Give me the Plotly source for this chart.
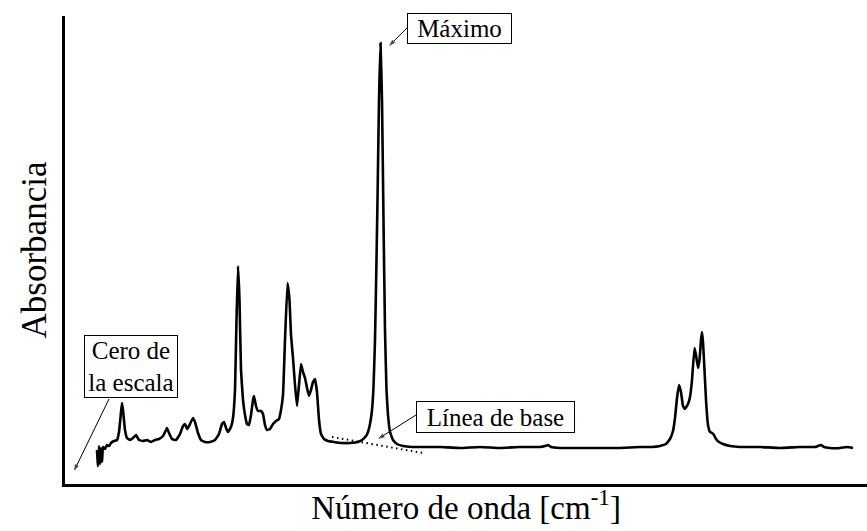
import plotly.graph_objects as go

# Spectrum (arbitrary units: wavenumber axis position, absorbance)
wavenumber = [32, 33, 34, 35, 36, 37, 38, 40, 42, 44, 46, 49, 52, 54, 56, 57, 58, 60, 62, 65,
              68, 71, 74, 78, 82, 86, 90, 94, 98, 101, 102, 104, 107, 111, 115, 118, 120, 122, 124, 128,
              130, 133, 136, 140, 145, 150, 154, 157, 159, 161, 163, 166, 168, 170, 171.5, 173, 174.5, 176, 178, 180,
              182, 184, 186, 188, 189, 191, 193, 196, 198, 200, 202, 205, 208, 211, 214, 216, 218, 220, 222.5, 224.5,
              226, 228, 230, 232, 234, 236, 238, 240, 242, 244, 246, 248, 250, 252, 254, 256, 259, 263, 269, 277,
              285, 293, 297, 301, 303, 305, 307, 308.5, 310, 311.5, 312.5, 314, 315.5, 317, 318.5, 320, 321.5, 323, 325, 328,
              332, 338, 347, 360, 375, 395, 415, 435, 455, 475, 480, 483, 486, 495, 515, 535, 555, 575, 587, 595,
              601, 605, 608, 610, 612, 614, 616, 618, 620, 623, 625, 627, 629.5, 631, 633, 634.5, 636, 637, 638, 639.5,
              641, 643, 645, 647, 649, 651, 654, 658, 665, 675, 695, 715, 735, 750, 753, 756, 759, 765, 775, 782, 788]
absorbance = [34, 18, 38, 20, 36, 22, 37, 35, 39, 38, 41, 43, 44, 52, 72, 81, 74, 54, 46, 44,
              46, 49, 44, 43, 44, 42, 44, 45, 48, 54, 56, 51, 45, 44, 50, 58, 60, 55, 58, 66,
              62, 51, 44, 42, 42, 44, 50, 60, 62, 56, 52, 57, 66, 94, 164, 218, 184, 114, 84, 69,
              60, 59, 69, 84, 88, 78, 73, 73, 70, 59, 54, 55, 60, 63, 65, 74, 89, 144, 201, 184,
              149, 126, 99, 78, 99, 120, 112, 106, 96, 88, 94, 102, 105, 92, 64, 50, 45, 43, 42, 41,
              41, 42, 44, 48, 52, 60, 74, 97, 144, 224, 284, 384, 441, 384, 264, 154, 94, 69, 52, 44,
              40, 38, 37, 37, 37, 36, 37, 36, 37, 37, 38, 39, 37, 36, 36, 36, 36, 37, 37, 38,
              40, 45, 53, 66, 86, 99, 92, 78, 75, 80, 87, 104, 136, 129, 116, 124, 144, 152, 142, 114,
              84, 59, 52, 51, 49, 45, 42, 40, 38, 37, 37, 36, 37, 37, 38, 39, 37, 36, 36, 37, 36]

# Dotted baseline under the main peak
baseline_x = [267, 358]
baseline_y = [47, 31]

# Callouts: label, box centre, arrow tail, arrow tip
labels = ["Máximo", "Línea de base", "Cero de<br>la escala"]
box_x = [394.5, 430.5, 66]
box_y = [455.5, 67, 117.5]
box_w = [103, 157, 92]
box_h = [29, 30, 61]
tail_x = [342, 351, 44]
tail_y = [456, 69, 85]
tip_x = [324, 313, 9]
tip_y = [438, 45, 13]

FONT = "Liberation Serif, Times New Roman, serif"

fig = go.Figure()
fig.add_trace(go.Scatter(x=wavenumber, y=absorbance, mode="lines",
                         line=dict(color="black", width=2.6, shape="spline", smoothing=0.3),
                         showlegend=False, hoverinfo="skip"))
fig.add_trace(go.Scatter(x=baseline_x, y=baseline_y, mode="lines",
                         line=dict(color="black", width=2, dash="1.5px,3.5px"),
                         showlegend=False, hoverinfo="skip"))

# Thin callout arrows
for i in range(len(labels)):
    fig.add_trace(go.Scatter(x=[tail_x[i], tip_x[i]], y=[tail_y[i], tip_y[i]],
                             mode="lines+markers",
                             line=dict(color="black", width=1),
                             marker=dict(symbol=["circle", "arrow"], size=[0, 7],
                                         angleref="previous", color="black",
                                         line=dict(width=0)),
                             showlegend=False, hoverinfo="skip"))

annotations = []
for i in range(len(labels)):
    annotations.append(dict(x=box_x[i], y=box_y[i], xref="x", yref="y", text=labels[i],
                            showarrow=False, font=dict(family=FONT, size=25, color="black"),
                            bordercolor="black", borderwidth=1, borderpad=0, bgcolor="white",
                            width=box_w[i], height=box_h[i], align="center", valign="middle"))

fig.update_layout(
    width=867, height=531,
    margin=dict(l=65, r=0, t=16, b=47),
    paper_bgcolor="white", plot_bgcolor="white",
    font=dict(family=FONT, color="black"),
    xaxis=dict(range=[0, 802], showline=True, linecolor="black", linewidth=3,
               showgrid=False, zeroline=False, showticklabels=False, ticks="",
               title=dict(text="Número de onda [cm<sup>-1</sup>]",
                          font=dict(family=FONT, size=33, color="black"), standoff=10)),
    yaxis=dict(range=[0, 468], showline=True, linecolor="black", linewidth=3,
               showgrid=False, zeroline=False, showticklabels=False, ticks="",
               title=dict(text="Absorbancia",
                          font=dict(family=FONT, size=35, color="black"), standoff=5)),
    annotations=annotations,
)

fig.write_html("out.html", config={"displayModeBar": False},
               post_script="document.body.style.margin='0';document.body.style.overflow='hidden';")
